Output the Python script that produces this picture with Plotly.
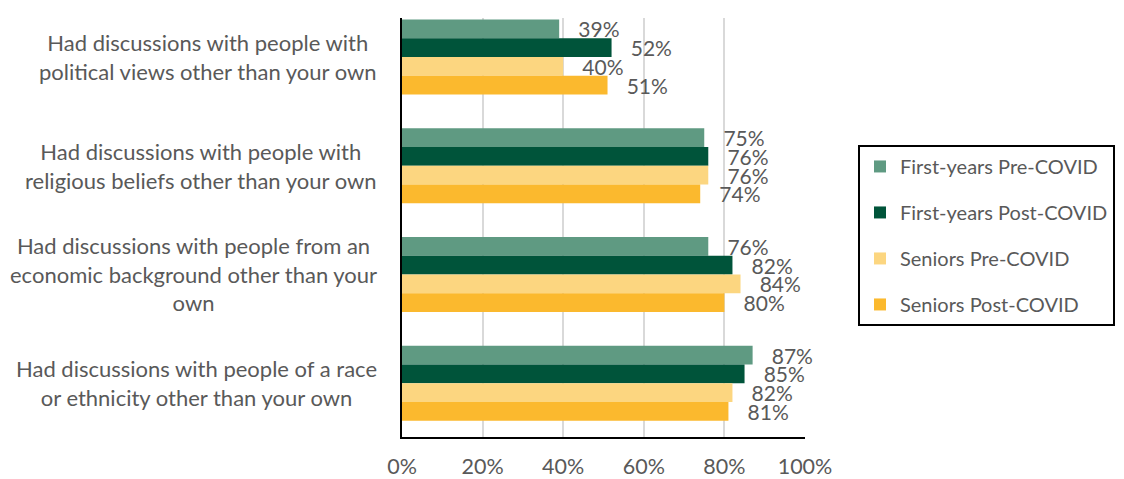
import plotly.graph_objects as go

categories = [
    "Had discussions with people with<br>political views other than your own",
    "Had discussions with people with<br>religious beliefs other than your own",
    "Had discussions with people from an<br>economic background other than your<br>own",
    "Had discussions with people of a race<br>or ethnicity other than your own",
]
series_names = ["First-years Pre-COVID", "First-years Post-COVID", "Seniors Pre-COVID", "Seniors Post-COVID"]
fy_pre = [0.39, 0.75, 0.76, 0.87]
fy_post = [0.52, 0.76, 0.82, 0.85]
sr_pre = [0.40, 0.76, 0.84, 0.82]
sr_post = [0.51, 0.74, 0.80, 0.81]
series_values = [fy_pre, fy_post, sr_pre, sr_post]
colors = ["#5f9a82", "#00543a", "#fcd680", "#fbb92e"]
x_ticks = [0, 0.2, 0.4, 0.6, 0.8, 1.0]
x_tick_labels = ["0%", "20%", "40%", "60%", "80%", "100%"]

FONT = "Lato"
GRAY = "#595959"

fig = go.Figure()
ypos = list(range(len(categories)))
for i, (name, vals, col) in enumerate(zip(series_names, series_values, colors)):
    fig.add_trace(go.Bar(
        y=ypos, x=vals, name=name, orientation="h",
        marker=dict(color=col, line=dict(width=0)),
        text=[f"\u00a0\u00a0\u00a0{round(v*100)}%" for v in vals],
        textposition="outside", cliponaxis=False, constraintext="none",
        textfont=dict(family=FONT, size=21, color=GRAY),
        legendgroup=f"g{i}", legendrank=i + 1,
        hoverinfo="skip",
    ))

for j, cat in enumerate(categories):
    fig.add_annotation(
        x=-0.058, xref="paper", y=j, yref="y", text=cat, showarrow=False,
        xanchor="right", yanchor="middle", align="center",
        font=dict(family=FONT, size=22, color=GRAY),
    )

fig.update_layout(
    width=1116, height=471,
    margin=dict(l=394, r=319, t=10, b=42, pad=0, autoexpand=False),
    paper_bgcolor="white", plot_bgcolor="white",
    barmode="group", bargap=0.31, bargroupgap=0,
    showlegend=True,
    legend=dict(
        x=1.1315, y=0.697, xanchor="left", yanchor="top",
        bordercolor="black", borderwidth=2,
        font=dict(family=FONT, size=20, color=GRAY),
        traceorder="grouped", tracegroupgap=17,
    ),
    xaxis=dict(
        range=[0, 1.0], tickvals=x_ticks, ticktext=x_tick_labels,
        showgrid=True, gridcolor="#d9d9d9", gridwidth=2,
        showline=True, linecolor="black", linewidth=2, automargin=False,
        zeroline=False, ticks="", ticklabelstandoff=9,
        tickfont=dict(family=FONT, size=21.5, color=GRAY),
    ),
    yaxis=dict(
        range=[3.495, -0.358], showticklabels=False, showgrid=False, automargin=False,
        showline=True, linecolor="black", linewidth=2, zeroline=False, ticks="",
    ),
)

fig.write_html("out.html")
